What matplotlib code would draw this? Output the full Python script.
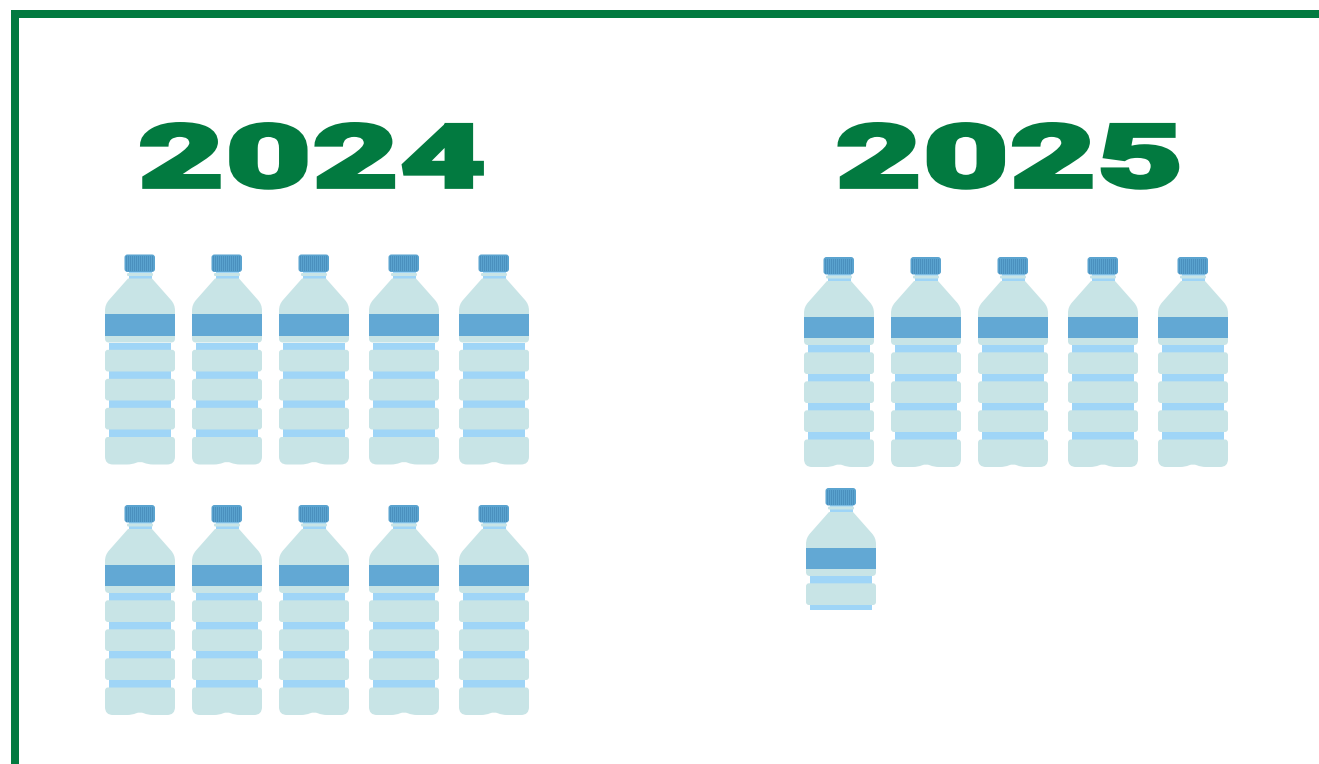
import math
import matplotlib
matplotlib.use('Agg')
import matplotlib.pyplot as plt
from matplotlib.patches import Rectangle, FancyBboxPatch, PathPatch
from matplotlib.path import Path
from matplotlib.patheffects import AbstractPathEffect
from matplotlib.transforms import Affine2D

plt.rcParams['font.family'] = ['Roboto', 'DejaVu Sans']

years = ['2024', '2025']
bottles = [10, 5.58]

green = '#027a40'
body_c = '#c8e4e6'
band_c = '#9fd5f7'
label_c = '#62a8d4'
cap_c = '#5aa3cf'
stripe_c = '#4a90be'

W, H = 1319, 764
bottle_h = 210


class Widen(AbstractPathEffect):
    # stretches the text sideways about cx, the fonts here have no extended cut
    def __init__(self, cx, sx, stroke):
        super().__init__()
        self.cx, self.sx, self.stroke = cx, sx, stroke

    def draw_path(self, renderer, gc, tpath, affine, rgbFace=None):
        gc0 = renderer.new_gc()
        gc0.copy_properties(gc)
        gc0.set_linewidth(self.stroke)
        gc0.set_foreground(rgbFace)
        gc0.set_joinstyle('miter')
        t = affine + Affine2D().translate(-self.cx, 0).scale(self.sx, 1).translate(self.cx, 0)
        renderer.draw_path(gc0, tpath, t, rgbFace)
        gc0.restore()


def rrect(x0, y0, x1, y1, r, color):
    return FancyBboxPatch((x0, y0), x1 - x0, y1 - y0, boxstyle=f'round,pad=0,rounding_size={r}',
                          fc=color, ec='none', lw=0)


def curve_shape(items, color):
    verts, codes = [], []
    for code, pts in items:
        for p in pts:
            verts.append(p)
            codes.append(code)
    return PathPatch(Path(verts, codes), fc=color, ec='none', lw=0)


def draw_bottle(ax, left, top, frac=1.0):
    M, L, C = Path.MOVETO, Path.LINETO, Path.CURVE3
    parts = []
    # neck
    parts.append(Rectangle((23.5, 17), 23, 8, fc=band_c, ec='none'))
    parts.append(rrect(22, 18.5, 48, 21.5, 1.2, body_c))
    # shoulder and upper part
    parts.append(curve_shape([
        (M, [(23, 24)]), (L, [(47, 24)]), (L, [(66, 45.5)]),
        (C, [(70, 50), (70, 56)]), (L, [(70, 84)]), (C, [(70, 88), (66, 88)]),
        (L, [(4, 88)]), (C, [(0, 88), (0, 84)]), (L, [(0, 56)]),
        (C, [(0, 50), (4, 45.5)]), (Path.CLOSEPOLY, [(23, 24)]),
    ], body_c))
    parts.append(Rectangle((0, 59.5), 70, 21.5, fc=label_c, ec='none'))
    # ribbed part
    parts.append(Rectangle((4, 88), 62, 98, fc=band_c, ec='none'))
    for k in range(3):
        parts.append(rrect(0, 95.3 + 29 * k, 70, 117 + 29 * k, 3, body_c))
    parts.append(curve_shape([
        (M, [(3, 182.5)]), (L, [(67, 182.5)]), (C, [(70, 182.5), (70, 186)]),
        (L, [(70, 202)]), (C, [(70, 210), (62, 210)]), (L, [(48, 210)]),
        (C, [(43, 210), (39, 208.3)]), (C, [(35, 206.6), (31, 208.3)]),
        (C, [(27, 210), (22, 210)]), (L, [(8, 210)]),
        (C, [(0, 210), (0, 202)]), (L, [(0, 186)]), (C, [(0, 182.5), (3, 182.5)]),
        (Path.CLOSEPOLY, [(3, 182.5)]),
    ], body_c))
    # cap
    parts.append(rrect(19.5, 0, 50, 17.5, 3, cap_c))
    sx = 21.3
    while sx < 48.5:
        parts.append(Rectangle((sx, 1.5), 1.0, 15, fc=stripe_c, ec='none'))
        sx += 2.0

    place = Affine2D().translate(left, top) + ax.transData
    clip = Rectangle((0, -1), 72, 1 + bottle_h * frac, transform=place)
    for p in parts:
        p.set_transform(place)
        ax.add_patch(p)
        p.set_clip_path(clip)


fig = plt.figure(figsize=(W / 100, H / 100), dpi=100)
ax = fig.add_axes([0, 0, 1, 1])
ax.set_xlim(0, W)
ax.set_ylim(H, 0)
ax.axis('off')

# frame, top and left only
ax.add_patch(Rectangle((11, 10), W - 11, 8, fc=green, ec='none'))
ax.add_patch(Rectangle((11, 10), 8, H - 10, fc=green, ec='none'))

title_x = [312, 1009.5]
title_base = 187
col_lefts = [[105, 192, 279, 369, 459], [804, 891, 978, 1068, 1158]]
row_tops = [[254.5, 505], [257, 488]]

for n, year in enumerate(years):
    cx = ax.transData.transform((title_x[n], 0))[0]
    ax.text(title_x[n], title_base, year, ha='center', va='baseline', color=green,
            fontsize=63, fontweight='black', path_effects=[Widen(cx, 1.72, 2.7)])
    for i in range(math.ceil(bottles[n])):
        frac = min(1.0, bottles[n] - i)
        row = i // 5
        left = col_lefts[n][i % 5]
        if n == 1 and row == 1:
            left += 2
        draw_bottle(ax, left, row_tops[n][row], frac)

fig.savefig('out.png', dpi=100)
